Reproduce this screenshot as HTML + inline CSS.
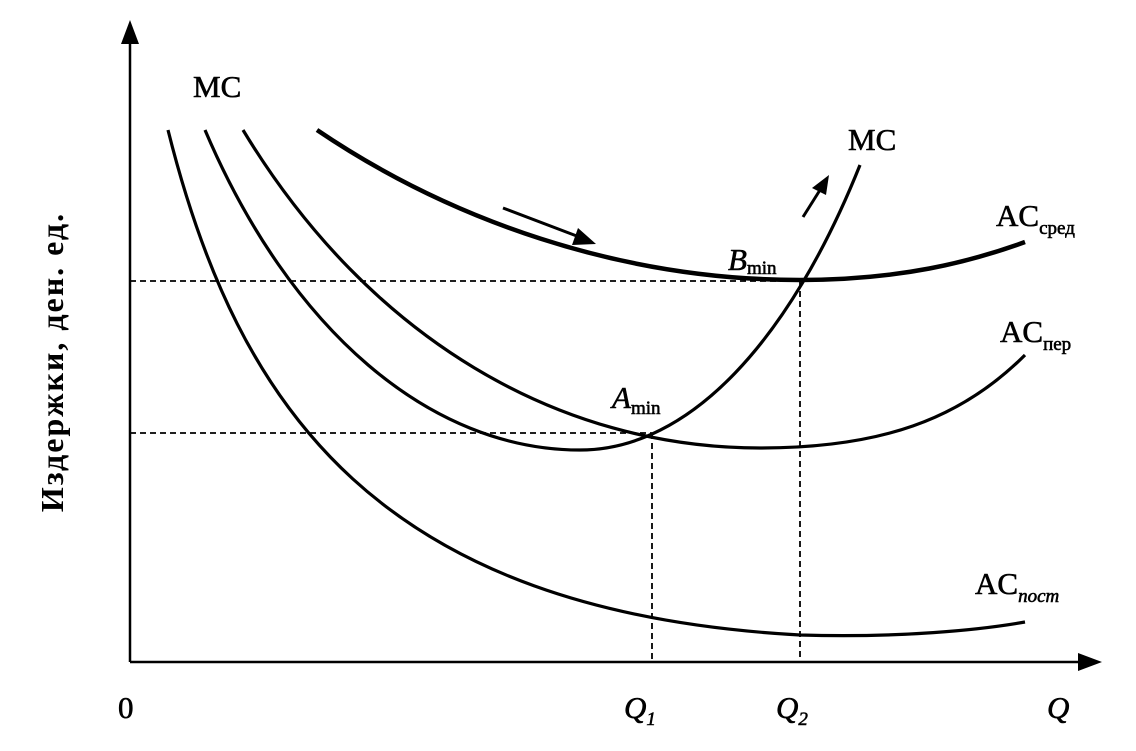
<!DOCTYPE html>
<html><head><meta charset="utf-8"><style>
html,body{margin:0;padding:0;background:#fff;}
svg{display:block;}
text{font-family:"Liberation Serif","DejaVu Serif",serif;fill:#000;}
</style></head><body>
<svg width="1136" height="751" viewBox="0 0 1136 751" xmlns="http://www.w3.org/2000/svg">
<rect width="1136" height="751" fill="#fff"/>
<line x1="130" y1="662" x2="130" y2="40" stroke="#000" stroke-width="2.5"/>
<polygon points="130,20 121,44 139,44" fill="#000"/>
<line x1="130" y1="662" x2="1085" y2="662" stroke="#000" stroke-width="2.5"/>
<polygon points="1102,662 1078,653 1078,671" fill="#000"/>
<g stroke="#000" stroke-width="1.8" stroke-dasharray="6,4" fill="none">
<line x1="130" y1="281" x2="800" y2="281"/>
<line x1="800" y1="281" x2="800" y2="662"/>
<line x1="130" y1="433" x2="652" y2="433"/>
<line x1="652" y1="433" x2="652" y2="662"/>
</g>
<g fill="none" stroke="#000" stroke-width="3.2">
<path d="M168,130 C238,410 380,612 800,635 C900,638 980,630 1025,622"/>
<path d="M205,130 C290,330 430,450 580,450 C690,450 790,340 860,165"/>
<path d="M243,130 C370,340 560,448 760,448 C880,448 960,420 1025,355"/>
<path d="M317,130 C450,220 620,280 800,280 C900,280 970,262 1025,242" stroke-width="4.5"/>
</g>
<line x1="503" y1="208" x2="582" y2="238" stroke="#000" stroke-width="3"/>
<polygon points="596,244 578,228 572,245" fill="#000"/>
<line x1="803" y1="217" x2="820" y2="190" stroke="#000" stroke-width="3"/>
<polygon points="829,175 812,188 826,195" fill="#000"/>
<g font-size="31" stroke="#000" stroke-width="0.6">
<text x="193" y="97">MC</text>
<text x="848" y="150">MC</text>
<text x="996" y="226">AC<tspan font-size="19" dy="8">сред</tspan></text>
<text x="1000" y="342">AC<tspan font-size="19" dy="8">пер</tspan></text>
<text x="975" y="594">AC<tspan font-size="19" dy="8" font-style="italic">пост</tspan></text>
<text x="728" y="270" font-style="italic">B<tspan font-size="19" dy="4" font-style="normal">min</tspan></text>
<text x="612" y="408" font-style="italic">A<tspan font-size="19" dy="6" font-style="normal">min</tspan></text>
<text x="118" y="718">0</text>
<text x="624" y="718" font-style="italic">Q<tspan font-size="19" dy="7">1</tspan></text>
<text x="776" y="718" font-style="italic">Q<tspan font-size="19" dy="7">2</tspan></text>
<text x="1047" y="718" font-style="italic">Q</text>
</g>
<text x="0" y="0" font-size="32" font-family="Liberation Sans,sans-serif" font-weight="bold" transform="translate(63,362) rotate(-90)" text-anchor="middle" letter-spacing="2">Издержки, ден. ед.</text>
</svg>
</body></html>
